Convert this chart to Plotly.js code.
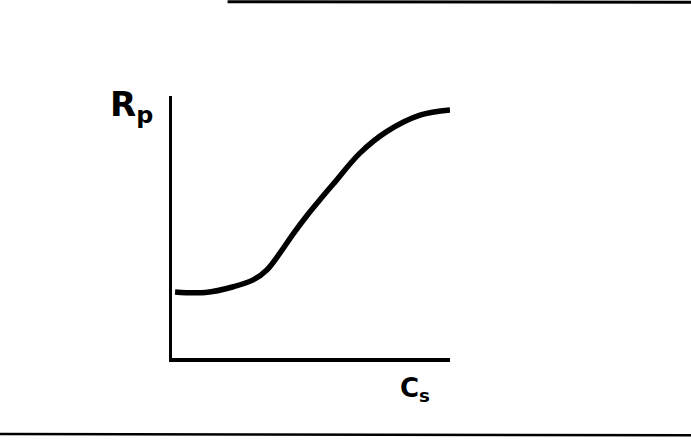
<!DOCTYPE html>
<html>
<head>
<meta charset="utf-8">
<script src="https://cdn.plot.ly/plotly-3.0.1.min.js"></script>
<style>html,body{margin:0;padding:0;background:#fff;}#chart{width:691px;height:443px;}</style>
</head>
<body>
<div id="chart"></div>
<script>
// Sketch curve: Rp versus Cs (arbitrary units)
const csValues = [0.11, 1.20, 2.21, 2.92, 3.41, 3.88, 4.36, 4.85, 5.32, 5.80, 6.76, 7.72, 8.92, 10.0];
const rpValues = [2.52, 2.50, 2.72, 2.98, 3.36, 4.00, 4.74, 5.43, 6.04, 6.64, 7.82, 8.64, 9.27, 9.47];
const yLabel = '<b>R<sub>p</sub></b>';
const xLabel = '<b>C<sub>s</sub></b>';

const trace = {
  x: csValues, y: rpValues, type: 'scatter', mode: 'lines',
  line: {color: '#000', width: 5.5, shape: 'spline', smoothing: 1.0},
  hoverinfo: 'skip'
};

const layout = {
  width: 691, height: 443,
  margin: {l: 172, r: 241, t: 96, b: 85, pad: 0},
  paper_bgcolor: '#fff', plot_bgcolor: '#fff',
  showlegend: false,
  xaxis: {range: [0, 10], showgrid: false, zeroline: false, showticklabels: false, ticks: '',
          showline: true, linecolor: '#000', linewidth: 3.5},
  yaxis: {range: [0, 10], showgrid: false, zeroline: false, showticklabels: false, ticks: '',
          showline: true, linecolor: '#000', linewidth: 3.5},
  annotations: [
    {text: yLabel, xref: 'paper', yref: 'paper', x: -0.06, y: 1.055, xanchor: 'right', yanchor: 'top',
     showarrow: false, font: {family: 'DejaVu Sans', size: 34, color: '#000'}},
    {text: xLabel, xref: 'paper', yref: 'paper', x: 0.875, y: -0.05, xanchor: 'center', yanchor: 'top',
     showarrow: false, font: {family: 'DejaVu Sans', size: 26, color: '#000'}}
  ],
  shapes: [
    {type: 'line', xref: 'paper', yref: 'paper', x0: 0.2, x1: 1.87, y0: 1.36, y1: 1.358,
     line: {color: '#000', width: 3}},
    {type: 'line', xref: 'paper', yref: 'paper', x0: -0.62, x1: 1.87, y0: -0.29, y1: -0.295,
     line: {color: '#000', width: 2.5}}
  ]
};

Plotly.newPlot('chart', [trace], layout, {staticPlot: true, displayModeBar: false});
</script>
</body>
</html>
